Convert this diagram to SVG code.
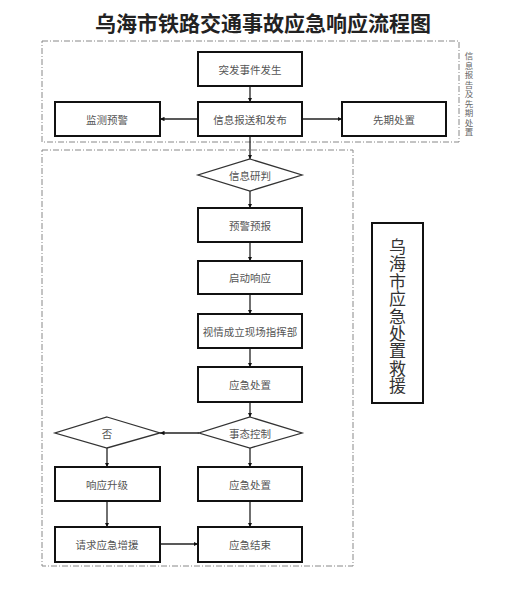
<svg xmlns="http://www.w3.org/2000/svg" width="511" height="599" viewBox="0 0 511 599">
<defs>
<style>
.box{fill:#fff;stroke:#111;stroke-width:2}
.dia{fill:#fff;stroke:#333;stroke-width:1.3}
.t{font-family:"Noto Sans CJK SC","Noto Sans CJK JP",sans-serif;font-size:10.5px;fill:#555;text-anchor:middle;dominant-baseline:central}
.dash{fill:none;stroke:#888;stroke-width:1;stroke-dasharray:6 2 1 2}
.ln{stroke:#222;stroke-width:1.3;fill:none;marker-end:url(#ar)}
</style>
<marker id="ar" viewBox="0 0 10 10" refX="10" refY="5" markerWidth="4.5" markerHeight="4.5" orient="auto" markerUnits="userSpaceOnUse">
<path d="M0,0 L10,5 L0,10 z" fill="#111"/>
</marker>
</defs>
<rect width="511" height="599" fill="#fff"/>
<text x="263" y="31" font-family="Noto Sans CJK SC,sans-serif" font-size="21" font-weight="bold" fill="#222" text-anchor="middle">乌海市铁路交通事故应急响应流程图</text>
<g id="frames">
<rect class="dash" x="42" y="41" width="417" height="101"/>
<rect class="dash" x="42" y="150" width="311" height="416"/>
</g>
<g id="side-label">
<text font-family="Noto Sans CJK SC,sans-serif" font-size="8.5" fill="#666" text-anchor="middle" dominant-baseline="central">
<tspan x="469" y="55">信</tspan><tspan x="469" y="64.5">息</tspan><tspan x="469" y="74">报</tspan><tspan x="469" y="83.5">告</tspan><tspan x="469" y="93">及</tspan><tspan x="469" y="102.5">先</tspan><tspan x="469" y="112">期</tspan><tspan x="469" y="121.5">处</tspan><tspan x="469" y="131">置</tspan>
</text>
</g>
<g id="connectors">
<line class="ln" x1="250" y1="86" x2="250" y2="102"/>
<line class="ln" x1="198" y1="119" x2="160" y2="119"/>
<line class="ln" x1="302" y1="119" x2="342" y2="119"/>
<line class="ln" x1="250" y1="136" x2="250" y2="159"/>
<line class="ln" x1="250" y1="191" x2="250" y2="208"/>
<line class="ln" x1="250" y1="242" x2="250" y2="261"/>
<line class="ln" x1="250" y1="294" x2="250" y2="314"/>
<line class="ln" x1="250" y1="348" x2="250" y2="367"/>
<line class="ln" x1="250" y1="402" x2="250" y2="417"/>
<line class="ln" x1="199" y1="433" x2="160" y2="433"/>
<line class="ln" x1="250" y1="448" x2="250" y2="467"/>
<line class="ln" x1="107" y1="448" x2="107" y2="467"/>
<line class="ln" x1="107" y1="501" x2="107" y2="527"/>
<line class="ln" x1="250" y1="501" x2="250" y2="527"/>
<line class="ln" x1="160" y1="544" x2="198" y2="544"/>
</g>
<g id="n1"><rect class="box" x="198" y="52" width="104" height="34"/><text class="t" x="250" y="69">突发事件发生</text></g>
<g id="n2"><rect class="box" x="198" y="102" width="104" height="34"/><text class="t" x="250" y="119">信息报送和发布</text></g>
<g id="n3"><rect class="box" x="55" y="102" width="105" height="34"/><text class="t" x="107" y="119">监测预警</text></g>
<g id="n4"><rect class="box" x="342" y="102" width="104" height="34"/><text class="t" x="394" y="119">先期处置</text></g>
<g id="n5"><polygon class="dia" points="250,159 302,175 250,191 198,175"/><text class="t" x="250" y="175">信息研判</text></g>
<g id="n6"><rect class="box" x="198" y="208" width="104" height="34"/><text class="t" x="250" y="225">预警预报</text></g>
<g id="n7"><rect class="box" x="198" y="261" width="104" height="33"/><text class="t" x="250" y="277.5">启动响应</text></g>
<g id="n8"><rect class="box" x="198" y="314" width="104" height="34"/><text class="t" x="250" y="331">视情成立现场指挥部</text></g>
<g id="n9"><rect class="box" x="198" y="367" width="104" height="35"/><text class="t" x="250" y="384.5">应急处置</text></g>
<g id="n10"><polygon class="dia" points="250,417 302,433 250,448 199,433"/><text class="t" x="250" y="433">事态控制</text></g>
<g id="n11"><polygon class="dia" points="107,417 160,433 107,448 55,433"/><text class="t" x="107" y="433">否</text></g>
<g id="n12"><rect class="box" x="55" y="467" width="105" height="34"/><text class="t" x="107" y="484">响应升级</text></g>
<g id="n13"><rect class="box" x="198" y="467" width="104" height="34"/><text class="t" x="250" y="484">应急处置</text></g>
<g id="n14"><rect class="box" x="55" y="527" width="105" height="35"/><text class="t" x="107" y="544.5">请求应急增援</text></g>
<g id="n15"><rect class="box" x="198" y="527" width="104" height="35"/><text class="t" x="250" y="544.5">应急结束</text></g>
<g id="n16"><rect class="box" x="372" y="223" width="51" height="180"/>
<text font-family="Noto Sans CJK SC,sans-serif" font-size="17" fill="#333" text-anchor="middle" dominant-baseline="central">
<tspan x="397.5" y="245">乌</tspan><tspan x="397.5" y="262.4">海</tspan><tspan x="397.5" y="279.8">市</tspan><tspan x="397.5" y="297.2">应</tspan><tspan x="397.5" y="314.6">急</tspan><tspan x="397.5" y="332">处</tspan><tspan x="397.5" y="349.4">置</tspan><tspan x="397.5" y="366.8">救</tspan><tspan x="397.5" y="384.2">援</tspan>
</text></g>
</svg>
